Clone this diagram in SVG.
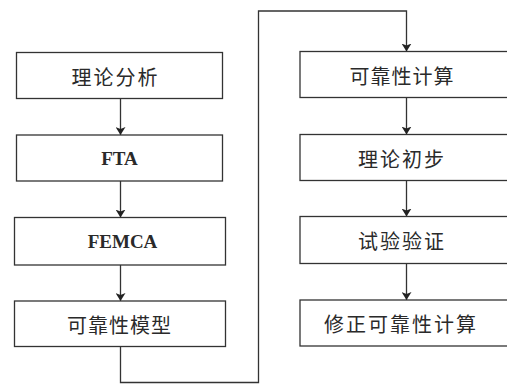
<svg xmlns="http://www.w3.org/2000/svg" width="507" height="384" viewBox="0 0 507 384">
<style>
.box{fill:#fff;stroke:#333;stroke-width:1.3}
.cn{font-family:"Noto Sans CJK SC","Noto Sans",sans-serif;font-size:20px;fill:#2a2a2a;text-anchor:middle;dominant-baseline:central;letter-spacing:1px}
.en{font-family:"Liberation Serif",serif;font-size:19px;font-weight:bold;fill:#2a2a2a;text-anchor:middle;dominant-baseline:central}
.ln{fill:none;stroke:#333;stroke-width:1.3}
</style>
<defs>
<marker id="ah" viewBox="0 0 8 10" refX="8" refY="5" markerWidth="8" markerHeight="10" markerUnits="userSpaceOnUse" orient="auto">
<path d="M0,0 L8,5 L0,10 L2,5 Z" fill="#222"/>
</marker>
</defs>
<g id="connectors">
<line class="ln" x1="120.5" y1="98.5" x2="120.5" y2="135" marker-end="url(#ah)"/>
<line class="ln" x1="120.5" y1="181" x2="120.5" y2="217.5" marker-end="url(#ah)"/>
<line class="ln" x1="120.5" y1="265" x2="120.5" y2="301" marker-end="url(#ah)"/>
<polyline class="ln" points="120.5,346.5 120.5,382.5 258.5,382.5 258.5,11 406.5,11 406.5,51.5" marker-end="url(#ah)"/>
<line class="ln" x1="406.5" y1="97.5" x2="406.5" y2="134.5" marker-end="url(#ah)"/>
<line class="ln" x1="406.5" y1="180.5" x2="406.5" y2="216.5" marker-end="url(#ah)"/>
<line class="ln" x1="406.5" y1="263.5" x2="406.5" y2="300" marker-end="url(#ah)"/>
</g>
<g id="n1"><rect class="box" x="16.5" y="52.5" width="206" height="46"/><text class="cn" x="115.5" y="76" style="letter-spacing:2px">理论分析</text></g>
<g id="n2"><rect class="box" x="16.5" y="135" width="206" height="46"/><text class="en" x="119.5" y="158.5">FTA</text></g>
<g id="n3"><rect class="box" x="14.5" y="217.5" width="211" height="47.5"/><text class="en" x="122.5" y="241.5">FEMCA</text></g>
<g id="n4"><rect class="box" x="14.5" y="301" width="211" height="45.5"/><text class="cn" x="119.5" y="324.5">可靠性模型</text></g>
<g id="n5"><rect class="box" x="300" y="51.5" width="212" height="46"/><text class="cn" x="402" y="75">可靠性计算</text></g>
<g id="n6"><rect class="box" x="300" y="134.5" width="212" height="46"/><text class="cn" x="402" y="158" style="letter-spacing:2px">理论初步</text></g>
<g id="n7"><rect class="box" x="300" y="216.5" width="212" height="47"/><text class="cn" x="402" y="240.5" style="letter-spacing:2px">试验验证</text></g>
<g id="n8"><rect class="box" x="300" y="300" width="212" height="46"/><text class="cn" x="401" y="323.5" style="letter-spacing:2px">修正可靠性计算</text></g>
</svg>
